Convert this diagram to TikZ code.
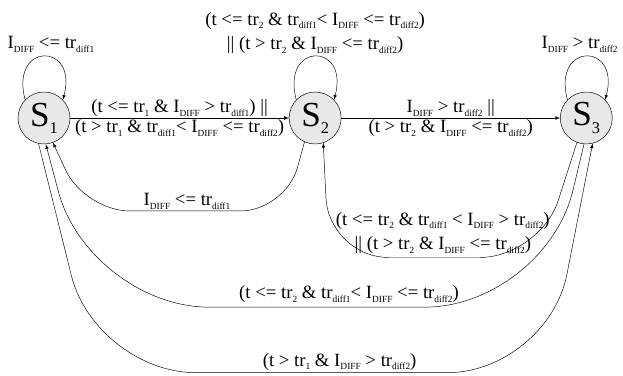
\documentclass[tikz,border=0pt]{standalone}
\usepackage{fontspec}
\setmainfont{Liberation Serif}
\usepackage{tikz}
\usetikzlibrary{arrows,shapes,positioning,calc}

\newcommand{\subtxt}[1]{\raisebox{-0.45ex}{\fontsize{8}{8}\selectfont #1}}
\newcommand{\Idiff}{I\subtxt{DIFF}}
\newcommand{\trd}[1]{tr\subtxt{diff#1}}
\newcommand{\trn}[1]{tr\subtxt{#1}}
\newcommand{\stname}[1]{{\fontsize{30}{30}\selectfont S\raisebox{-0.45ex}{\fontsize{14}{14}\selectfont #1}}}

\begin{document}
\begin{tikzpicture}[x=0.03cm,y=-0.03cm,>=latex,node distance=6.56cm,
    stnode/.style={circle,draw,fill=black!9,minimum size=1.56cm,inner sep=0pt},
    every node/.style={font=\fontsize{16}{19}\selectfont}]
    \useasboundingbox (0,0) rectangle (623,376);

    \node[stnode] (s1) at (44,118) {\stname{1}};
    \node[stnode,right=of s1] (s2) {\stname{2}};
    \node[stnode,right=of s2] (s3) {\stname{3}};

    % self loops
    \draw[->] (s1.136) .. controls +(105:1.8cm) and +(75:1.8cm) .. (s1.44)
        node[midway,above,inner sep=3pt,xshift=0.21cm] {\Idiff\ <= \trd{1}};
    \draw[->] (s2.136) .. controls +(105:1.8cm) and +(75:1.8cm) .. (s2.44)
        node[midway,above,inner sep=2pt,align=center] {(t <= \trn{2} \& \trd{1}< \Idiff\ <= \trd{2})\\[2pt]|| (t > \trn{2} \& \Idiff\ <= \trd{2})};
    \draw[->] (s3.136) .. controls +(105:1.8cm) and +(75:1.8cm) .. (s3.44)
        node[midway,above,inner sep=3pt,xshift=-0.2cm] {\Idiff\ > \trd{2}};

    % straight transitions
    \draw[->] (s1) -- (s2)
        node[midway,above,inner sep=1pt] {(t <= \trn{1} \& \Idiff\ > \trd{1}) ||}
        node[midway,below,inner sep=1pt] {(t > \trn{1} \& \trd{1}< \Idiff\ <= \trd{2})};
    \draw[->] (s2) -- (s3)
        node[midway,above,inner sep=1pt] {\Idiff\ > \trd{2} ||}
        node[midway,below,inner sep=1pt] {(t > \trn{2} \& \Idiff\ <= \trd{2})};

    % transitions below
    \draw[->,rounded corners=1.35cm] (s2.246) -- ++(-19,69) -- node[pos=0.49,above,inner sep=1pt] {\Idiff\ <= \trd{1}} ++(-201,0) -- (s1.290);
    \draw[->,rounded corners=1.8cm] (s3.249) -- ++(-37,115) -- node[pos=0.46,above,inner sep=3pt,align=center] {(t <= \trn{2} \& \trd{1} < \Idiff\ > \trd{2})\\[2pt]|| (t > \trn{2} \& \Idiff\ <= \trd{2})} ++(-211,0) -- (s2.288);
    \draw[->,rounded corners=3.6cm] (s3.265) -- ++(-39,163) -- node[pos=0.43,above,inner sep=4pt] {(t <= \trn{2} \& \trd{1}< \Idiff\ <= \trd{2})} ++(-456,0) -- (s1.274);
    \draw[->,rounded corners=3cm] (s1.258) -- ++(57,229) -- node[pos=0.54,above,inner sep=2pt] {(t > \trn{1} \& \Idiff\ > \trd{2})} ++(452,0) -- (s3.284);
\end{tikzpicture}
\end{document}
